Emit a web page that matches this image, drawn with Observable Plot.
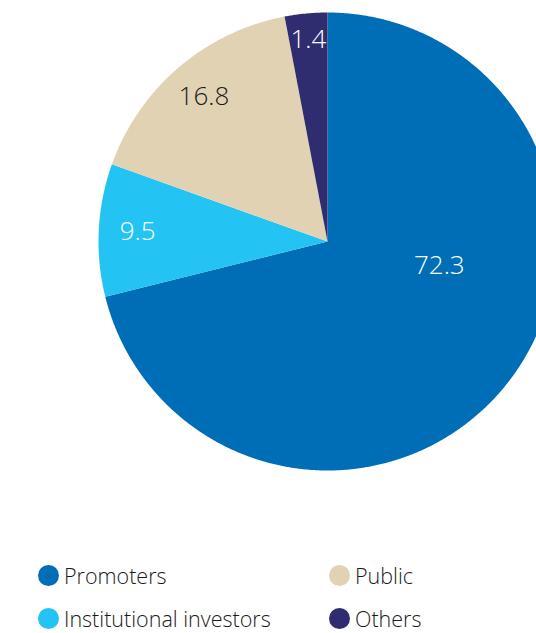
<!DOCTYPE html>
<html>
<head>
<meta charset="utf-8">
<script src="https://cdn.jsdelivr.net/npm/d3@7"></script>
<script src="https://cdn.jsdelivr.net/npm/@observablehq/plot@0.6"></script>
<style>
  html, body { margin: 0; padding: 0; background: #fff; }
  body { width: 536px; height: 633px; overflow: hidden; font-family: "Open Sans", "Noto Sans", sans-serif; }
  #chart svg { display: block; }
  .legend { display: grid; grid-template-columns: 291px 180px; row-gap: 21px; padding-left: 38px; margin-top: 44px; font-size: 21.5px; font-weight: 300; color: #1a1a1a; }
  .legend .item { display: flex; align-items: center; height: 22px; white-space: nowrap; }
  .legend .sw { width: 21px; height: 21px; border-radius: 50%; margin-right: 5px; flex: none; }
</style>
</head>
<body>
<div id="chart"></div>
<script>
const categories = ["Promoters", "Institutional investors", "Public", "Others"];
const shares = [72.3, 9.5, 16.8, 1.4];
const colors = ["#006eb6", "#23c4f3", "#e2d2b4", "#2f2c6f"];
const legendOrder = ["Promoters", "Public", "Institutional investors", "Others"];

// Rendering rule: very small slices get a minimum visible share (3%), others rescale.
const minShare = 3;
const total = d3.sum(shares);
const boosted = shares.map(v => Math.max(v, minShare * total / 100));
const rest = d3.sum(shares.filter((v, i) => boosted[i] === v));
const fixed = d3.sum(boosted.filter((v, i) => boosted[i] !== shares[i]));
const drawShares = shares.map((v, i) => boosted[i] !== v ? boosted[i] : v * (total - fixed) / rest);

const arcs = d3.pie().sort(null)(drawShares);
const rows = [];
arcs.forEach((a, i) => {
  const cat = categories[i];
  rows.push({cat, x: 0, y: 0});
  const n = Math.max(2, Math.ceil((a.endAngle - a.startAngle) / 0.005));
  for (let k = 0; k <= n; k++) {
    const t = a.startAngle + (a.endAngle - a.startAngle) * k / n;
    rows.push({cat, x: Math.sin(t), y: Math.cos(t)});
  }
  rows.push({cat, x: 0, y: 0});
});

const labels = arcs.map((a, i) => {
  const span = a.endAngle - a.startAngle;
  const big = span > Math.PI;
  const t = a.startAngle + span * (big ? 0.4 : 0.5);
  const r = big ? 0.5 : (span < 0.3 ? 0.885 : 0.83);
  const light = d3.hsl(colors[i]).l > 0.6;
  return {cat: categories[i], value: shares[i], x: r * Math.sin(t), y: r * Math.cos(t), ink: light ? "#1a1a1a" : "#ffffff"};
});

const plot = Plot.plot({
  width: 536,
  height: 520,
  margin: 0,
  x: {domain: [-1, 1], range: [98, 556], axis: null},
  y: {domain: [-1, 1], range: [470, 12], axis: null},
  color: {domain: categories, range: colors},
  style: {fontFamily: "'Open Sans', 'Noto Sans', sans-serif", background: "#fff"},
  marks: [
    Plot.line(rows, {x: "x", y: "y", z: "cat", fill: "cat", stroke: "none", curve: "linear"}),
    Plot.text(labels, {x: "x", y: "y", text: d => d.value.toFixed(1), fill: d => d.ink, fontSize: 26, fontWeight: 300})
  ]
});
document.getElementById("chart").appendChild(plot);

const legend = document.createElement("div");
legend.className = "legend";
legendOrder.forEach(name => {
  const item = document.createElement("div");
  item.className = "item";
  const sw = document.createElement("span");
  sw.className = "sw";
  sw.style.background = colors[categories.indexOf(name)];
  const lab = document.createElement("span");
  lab.textContent = name;
  item.appendChild(sw);
  item.appendChild(lab);
  legend.appendChild(item);
});
document.body.appendChild(legend);
</script>
</body>
</html>
